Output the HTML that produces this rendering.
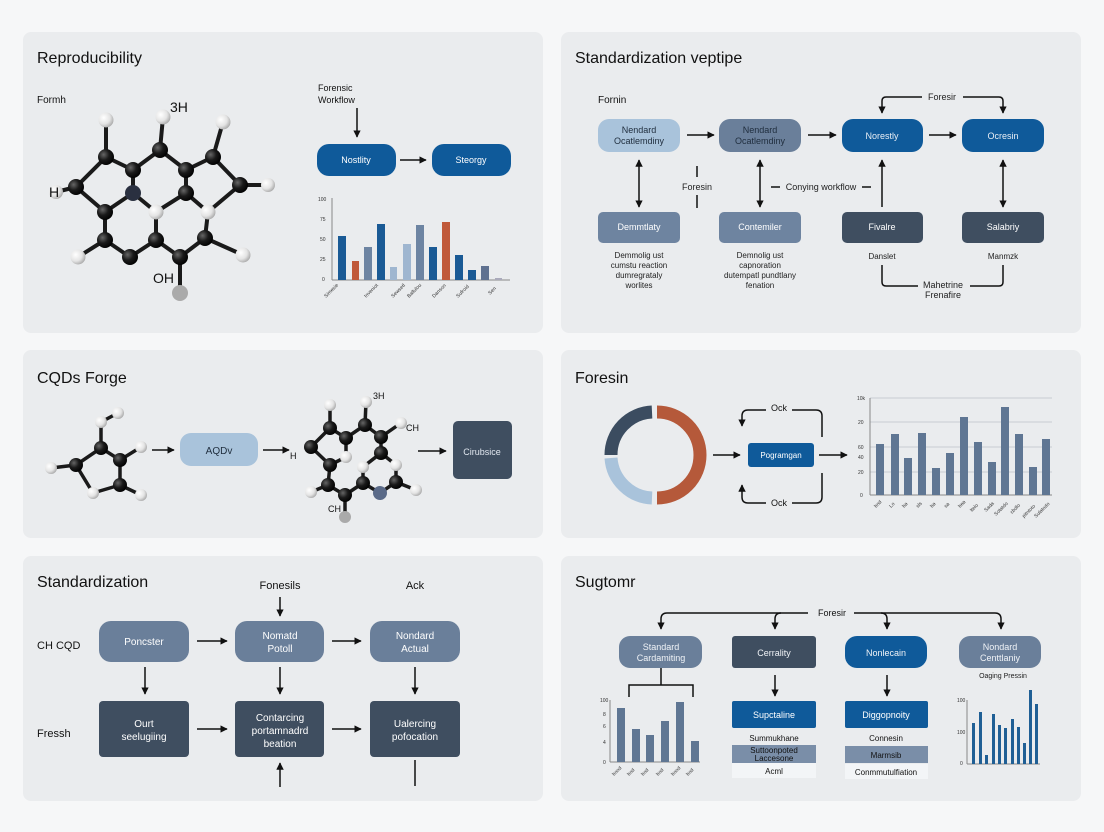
<!DOCTYPE html>
<html><head><meta charset="utf-8"><style>
html,body{margin:0;padding:0;background:#f6f7f8;}
svg{display:block;font-family:"Liberation Sans",sans-serif;}
</style></head><body>
<svg width="1104" height="832" viewBox="0 0 1104 832" xmlns="http://www.w3.org/2000/svg">
<defs>
<marker id="a" viewBox="0 0 10 10" refX="9" refY="5" markerWidth="5" markerHeight="5" orient="auto-start-reverse"><path d="M0,0 L10,5 L0,10 z" fill="#111"/></marker>
<radialGradient id="gb" cx="35%" cy="35%" r="70%"><stop offset="0" stop-color="#666"/><stop offset="0.5" stop-color="#1a1a1a"/><stop offset="1" stop-color="#000"/></radialGradient>
<radialGradient id="gw" cx="35%" cy="35%" r="70%"><stop offset="0" stop-color="#fff"/><stop offset="0.6" stop-color="#e4e4e4"/><stop offset="1" stop-color="#aaa"/></radialGradient>
</defs>
<rect width="1104" height="832" fill="#f6f7f8"/>
<g fill="#eaecee">
<rect x="23" y="32" width="520" height="301" rx="8"/>
<rect x="561" y="32" width="520" height="301" rx="8"/>
<rect x="23" y="350" width="520" height="188" rx="8"/>
<rect x="561" y="350" width="520" height="188" rx="8"/>
<rect x="23" y="556" width="520" height="245" rx="8"/>
<rect x="561" y="556" width="520" height="245" rx="8"/>
</g>
<g font-size="16" fill="#111">
<text x="37" y="63">Reproducibility</text>
<text x="575" y="63">Standardization veptipe</text>
<text x="37" y="383">CQDs Forge</text>
<text x="575" y="383">Foresin</text>
<text x="37" y="587">Standardization</text>
<text x="575" y="587">Sugtomr</text>
</g>

<!-- PANEL 1 molecule -->
<g stroke="#1a1a1a" stroke-width="4" stroke-linecap="round" fill="none">
<path d="M106,120 L106,157 L76,187 L105,212 L133,193 L133,170 L106,157 M133,170 L160,150 L186,170 L213,157 L240,185 L208,212 M186,170 L186,193 L156,212 M133,193 L156,212 M105,212 L105,240 L130,257 L156,240 L180,257 L205,238 L208,212 M156,240 L156,212 M180,257 L180,293 M160,150 L163,117 M213,157 L223,122 M240,185 L268,185 M76,187 L56,192 M105,240 L78,257 M205,238 L243,255 M186,193 L208,212"/>
</g>
<g fill="url(#gb)">
<circle cx="106" cy="157" r="8"/><circle cx="76" cy="187" r="8"/><circle cx="133" cy="170" r="8"/><circle cx="160" cy="150" r="8"/><circle cx="186" cy="170" r="8"/><circle cx="213" cy="157" r="8"/><circle cx="240" cy="185" r="8"/><circle cx="133" cy="193" r="8" fill="#2a3040"/><circle cx="186" cy="193" r="8"/><circle cx="105" cy="212" r="8"/><circle cx="105" cy="240" r="8"/><circle cx="130" cy="257" r="8"/><circle cx="156" cy="240" r="8"/><circle cx="180" cy="257" r="8"/><circle cx="205" cy="238" r="8"/>
</g>
<g fill="url(#gw)">
<circle cx="106" cy="120" r="7.5"/><circle cx="163" cy="117" r="7.5"/><circle cx="223" cy="122" r="7.5"/><circle cx="56" cy="192" r="7"/><circle cx="268" cy="185" r="7"/><circle cx="156" cy="212" r="7.5"/><circle cx="208" cy="212" r="7.5"/><circle cx="78" cy="257" r="7.5"/><circle cx="243" cy="255" r="7.5"/><circle cx="180" cy="293" r="8" fill="#aaa"/>
</g>
<g font-size="14" fill="#111"><text x="170" y="112">3H</text><text x="49" y="197">H</text><text x="153" y="283">OH</text></g>
<text x="37" y="103" font-size="10" fill="#111">Formh</text>
<g font-size="9" fill="#111"><text x="318" y="91">Forensic</text><text x="318" y="103">Workflow</text></g>
<line x1="357" y1="108" x2="357" y2="137" stroke="#111" stroke-width="1.5" marker-end="url(#a)"/>
<rect x="317" y="144" width="79" height="32" rx="12" fill="#0f5a9a"/>
<rect x="432" y="144" width="79" height="32" rx="12" fill="#0f5a9a"/>
<line x1="400" y1="160" x2="426" y2="160" stroke="#111" stroke-width="1.5" marker-end="url(#a)"/>
<g font-size="9" fill="#fff" text-anchor="middle"><text x="356" y="163">Nostlity</text><text x="471" y="163">Steorgy</text></g>
<g stroke="#888" stroke-width="1"><line x1="332" y1="198" x2="332" y2="280"/><line x1="332" y1="280" x2="510" y2="280"/></g>
<g font-size="5" fill="#333"><text x="318" y="201">100</text><text x="320" y="221">75</text><text x="320" y="241">50</text><text x="320" y="261">25</text><text x="322" y="281">0</text></g>
<g>
<rect x="338" y="236" width="8" height="44" fill="#1a5a95"/>
<rect x="352" y="261" width="7" height="19" fill="#c0593a"/>
<rect x="364" y="247" width="8" height="33" fill="#6d84a2"/>
<rect x="377" y="224" width="8" height="56" fill="#1a5a95"/>
<rect x="390" y="267" width="7" height="13" fill="#9fb6d0"/>
<rect x="403" y="244" width="8" height="36" fill="#9fb6d0"/>
<rect x="416" y="225" width="8" height="55" fill="#6d84a2"/>
<rect x="429" y="247" width="8" height="33" fill="#1a5a95"/>
<rect x="442" y="222" width="8" height="58" fill="#c0593a"/>
<rect x="455" y="255" width="8" height="25" fill="#1a5a95"/>
<rect x="468" y="270" width="8" height="10" fill="#1a5a95"/>
<rect x="481" y="266" width="8" height="14" fill="#5f7190"/>
<rect x="495" y="278" width="7" height="2" fill="#aab"/>
</g>
<g font-size="5" fill="#333">
<text transform="translate(326,298) rotate(-45)">Simesie</text><text transform="translate(366,298) rotate(-45)">Inveniot</text><text transform="translate(393,298) rotate(-45)">Sewsetl</text><text transform="translate(409,298) rotate(-45)">Ballulou</text><text transform="translate(434,298) rotate(-45)">Danson</text><text transform="translate(458,298) rotate(-45)">Sufroid</text><text transform="translate(490,295) rotate(-45)">Sen</text>
</g>

<!-- PANEL 2 -->
<text x="598" y="103" font-size="10" fill="#111">Fornin</text>
<rect x="598" y="119" width="82" height="33" rx="11" fill="#a9c3db"/>
<rect x="719" y="119" width="82" height="33" rx="11" fill="#6a7f9a"/>
<rect x="842" y="119" width="81" height="33" rx="11" fill="#0f5a9a"/>
<rect x="962" y="119" width="82" height="33" rx="11" fill="#0f5a9a"/>
<g font-size="9" text-anchor="middle">
<text x="639" y="133" fill="#1f2d3d">Nendard</text><text x="639" y="144" fill="#1f2d3d">Ocatlemdiny</text>
<text x="760" y="133" fill="#1f2d3d">Nendard</text><text x="760" y="144" fill="#1f2d3d">Ocatlemdiny</text>
<text x="882" y="139" fill="#e8eef5">Norestly</text><text x="1003" y="139" fill="#e8eef5">Ocresin</text>
</g>
<g stroke="#111" stroke-width="1.5" fill="none">
<line x1="687" y1="135" x2="714" y2="135" marker-end="url(#a)"/>
<line x1="808" y1="135" x2="836" y2="135" marker-end="url(#a)"/>
<line x1="929" y1="135" x2="956" y2="135" marker-end="url(#a)"/>
<line x1="639" y1="160" x2="639" y2="207" marker-start="url(#a)" marker-end="url(#a)"/>
<line x1="760" y1="160" x2="760" y2="207" marker-start="url(#a)" marker-end="url(#a)"/>
<line x1="1003" y1="160" x2="1003" y2="207" marker-start="url(#a)" marker-end="url(#a)"/>
<line x1="882" y1="207" x2="882" y2="160" marker-end="url(#a)"/>
<line x1="697" y1="166" x2="697" y2="177"/><line x1="697" y1="195" x2="697" y2="208"/>
<line x1="771" y1="187" x2="780" y2="187"/><line x1="862" y1="187" x2="871" y2="187"/>
<path d="M922,97 L886,97 Q882,97 882,101 L882,113" marker-end="url(#a)"/>
<path d="M963,97 L999,97 Q1003,97 1003,101 L1003,113" marker-end="url(#a)"/>
<path d="M882,265 L882,282 Q882,286 886,286 L918,286"/>
<path d="M1003,265 L1003,282 Q1003,286 999,286 L970,286"/>
</g>
<g font-size="9" fill="#222" text-anchor="middle">
<text x="942" y="100">Foresir</text><text x="697" y="190">Foresin</text><text x="821" y="190">Conying workflow</text>
<text x="943" y="288">Mahetrine</text><text x="943" y="298">Frenafire</text>
</g>
<rect x="598" y="212" width="82" height="31" rx="5" fill="#6e84a0"/>
<rect x="719" y="212" width="82" height="31" rx="5" fill="#6e84a0"/>
<rect x="842" y="212" width="81" height="31" rx="5" fill="#3f4e60"/>
<rect x="962" y="212" width="82" height="31" rx="5" fill="#3f4e60"/>
<g font-size="9" fill="#fff" text-anchor="middle"><text x="639" y="230">Demmtlaty</text><text x="760" y="230">Contemiler</text><text x="882" y="230">Fivalre</text><text x="1003" y="230">Salabriy</text></g>
<g font-size="8" fill="#222" text-anchor="middle">
<text x="639" y="258">Demmolig ust</text><text x="639" y="268">cumstu reaction</text><text x="639" y="278">dumregrataly</text><text x="639" y="288">worlites</text>
<text x="760" y="258">Demnolig ust</text><text x="760" y="268">capnoration</text><text x="760" y="278">dutempatl pundtlany</text><text x="760" y="288">fenation</text>
<text x="882" y="259">Danslet</text><text x="1003" y="259">Manmzk</text>
</g>

<!-- PANEL 3 -->
<g stroke="#1a1a1a" stroke-width="3.5" stroke-linecap="round" fill="none">
<path d="M101,448 L76,465 L93,493 L120,485 L120,460 L101,448 L101,422 L118,413 M120,460 L141,447 M76,465 L51,468 M120,485 L141,495"/>
<path d="M330,405 L330,428 L311,447 L330,465 L328,485 L345,495 L363,483 L380,493 L396,482 L416,490 M330,428 L346,438 L365,425 L366,402 M365,425 L381,437 L401,423 M381,437 L381,453 L363,467 L363,483 M346,438 L346,457 L330,465 M396,482 L396,465 M345,495 L345,517 M328,485 L311,492 M381,453 L396,465"/>
</g>
<g fill="url(#gb)">
<circle cx="101" cy="448" r="7"/><circle cx="76" cy="465" r="7"/><circle cx="120" cy="460" r="7"/><circle cx="120" cy="485" r="7"/>
<circle cx="330" cy="428" r="7"/><circle cx="346" cy="438" r="7"/><circle cx="365" cy="425" r="7"/><circle cx="381" cy="437" r="7"/><circle cx="311" cy="447" r="7"/><circle cx="381" cy="453" r="7"/><circle cx="330" cy="465" r="7"/><circle cx="328" cy="485" r="7"/><circle cx="345" cy="495" r="7"/><circle cx="363" cy="483" r="7"/><circle cx="396" cy="482" r="7"/><circle cx="380" cy="493" r="7" fill="#5a6a88"/>
</g>
<g fill="url(#gw)">
<circle cx="101" cy="422" r="6"/><circle cx="118" cy="413" r="6"/><circle cx="141" cy="447" r="6"/><circle cx="51" cy="468" r="6"/><circle cx="93" cy="493" r="6"/><circle cx="141" cy="495" r="6"/>
<circle cx="330" cy="405" r="6"/><circle cx="366" cy="402" r="6"/><circle cx="401" cy="423" r="6"/><circle cx="346" cy="457" r="6"/><circle cx="363" cy="467" r="6"/><circle cx="396" cy="465" r="6"/><circle cx="311" cy="492" r="6"/><circle cx="416" cy="490" r="6"/><circle cx="345" cy="517" r="6" fill="#aaa"/>
</g>
<g font-size="9" fill="#111"><text x="373" y="399">3H</text><text x="406" y="431">CH</text><text x="290" y="459">H</text><text x="328" y="512">CH</text></g>
<g stroke="#111" stroke-width="1.5">
<line x1="152" y1="450" x2="174" y2="450" marker-end="url(#a)"/>
<line x1="263" y1="450" x2="289" y2="450" marker-end="url(#a)"/>
<line x1="418" y1="451" x2="446" y2="451" marker-end="url(#a)"/>
</g>
<rect x="180" y="433" width="78" height="33" rx="11" fill="#a9c3db"/>
<text x="219" y="454" font-size="10" fill="#1f2d3d" text-anchor="middle">AQDv</text>
<rect x="453" y="421" width="59" height="58" rx="5" fill="#3f4e60"/>
<text x="482" y="455" font-size="9" fill="#e0e6ee" text-anchor="middle">Cirubsice</text>

<!-- PANEL 4 -->
<g fill="none" stroke-width="13">
<path d="M611,455 A43,43 0 0 1 652,412" stroke="#3b4c60"/>
<path d="M657,412 A43,43 0 0 1 657,498" stroke="#b5593a"/>
<path d="M652,498 A43,43 0 0 1 611,458" stroke="#a9c3db"/>
</g>
<g stroke="#111" stroke-width="1.5" fill="none">
<line x1="713" y1="455" x2="740" y2="455" marker-end="url(#a)"/>
<line x1="819" y1="455" x2="847" y2="455" marker-end="url(#a)"/>
<path d="M822,437 L822,416 Q822,410 816,410 L792,410"/>
<path d="M766,410 L748,410 Q742,410 742,416 L742,426" marker-end="url(#a)"/>
<path d="M822,473 L822,497 Q822,503 816,503 L792,503"/>
<path d="M766,503 L748,503 Q742,503 742,497 L742,485" marker-end="url(#a)"/>
</g>
<g font-size="9" fill="#111" text-anchor="middle"><text x="779" y="411">Ock</text><text x="779" y="506">Ock</text></g>
<rect x="748" y="443" width="66" height="24" rx="3" fill="#0f5a9a"/>
<text x="781" y="458" font-size="8" fill="#fff" text-anchor="middle">Pogramgan</text>
<g stroke="#c8ccd2" stroke-width="1"><line x1="870" y1="398" x2="1052" y2="398"/><line x1="870" y1="422" x2="1052" y2="422"/><line x1="870" y1="447" x2="1052" y2="447"/><line x1="870" y1="472" x2="1052" y2="472"/></g>
<g stroke="#888"><line x1="870" y1="398" x2="870" y2="495"/><line x1="870" y1="495" x2="1052" y2="495"/></g>
<g font-size="5" fill="#333"><text x="857" y="400">10k</text><text x="858" y="424">20</text><text x="858" y="449">60</text><text x="858" y="459">40</text><text x="858" y="474">20</text><text x="860" y="497">0</text></g>
<g fill="#5f7693">
<rect x="876" y="444" width="8" height="51"/><rect x="891" y="434" width="8" height="61"/><rect x="904" y="458" width="8" height="37"/><rect x="918" y="433" width="8" height="62"/><rect x="932" y="468" width="8" height="27"/><rect x="946" y="453" width="8" height="42"/><rect x="960" y="417" width="8" height="78"/><rect x="974" y="442" width="8" height="53"/><rect x="988" y="462" width="8" height="33"/><rect x="1001" y="407" width="8" height="88"/><rect x="1015" y="434" width="8" height="61"/><rect x="1029" y="467" width="8" height="28"/><rect x="1042" y="439" width="8" height="56"/>
</g>
<g font-size="5" fill="#333">
<text transform="translate(876,508) rotate(-45)">bnd</text><text transform="translate(891,508) rotate(-45)">Lo</text><text transform="translate(904,508) rotate(-45)">ba</text><text transform="translate(918,508) rotate(-45)">sls</text><text transform="translate(932,508) rotate(-45)">ba</text><text transform="translate(946,508) rotate(-45)">sa</text><text transform="translate(960,508) rotate(-45)">bea</text><text transform="translate(972,512) rotate(-45)">ltelo</text><text transform="translate(986,512) rotate(-45)">Sada</text><text transform="translate(996,516) rotate(-45)">Sotatdo</text><text transform="translate(1012,514) rotate(-45)">cbdlo</text><text transform="translate(1024,518) rotate(-45)">pitntoto</text><text transform="translate(1036,518) rotate(-45)">Sulatodo</text>
</g>

<!-- PANEL 5 -->
<g font-size="11" fill="#111"><text x="280" y="589" text-anchor="middle">Fonesils</text><text x="415" y="589" text-anchor="middle">Ack</text><text x="37" y="649">CH CQD</text><text x="37" y="737">Fressh</text></g>
<g fill="#6a7f9a"><rect x="99" y="621" width="90" height="41" rx="12"/><rect x="235" y="621" width="89" height="41" rx="12"/><rect x="370" y="621" width="90" height="41" rx="12"/></g>
<g fill="#3f4e60"><rect x="99" y="701" width="90" height="56" rx="4"/><rect x="235" y="701" width="89" height="56" rx="4"/><rect x="370" y="701" width="90" height="56" rx="4"/></g>
<g font-size="10" fill="#fff" text-anchor="middle">
<text x="144" y="645">Poncster</text>
<text x="280" y="639">Nomatd</text><text x="280" y="652">Potoll</text>
<text x="415" y="639">Nondard</text><text x="415" y="652">Actual</text>
<text x="144" y="727">Ourt</text><text x="144" y="740">seelugiing</text>
<text x="280" y="721">Contarcing</text><text x="280" y="734">portamnadrd</text><text x="280" y="747">beation</text>
<text x="415" y="727">Ualercing</text><text x="415" y="740">pofocation</text>
</g>
<g stroke="#111" stroke-width="1.5">
<line x1="280" y1="597" x2="280" y2="616" marker-end="url(#a)"/>
<line x1="197" y1="641" x2="227" y2="641" marker-end="url(#a)"/>
<line x1="332" y1="641" x2="361" y2="641" marker-end="url(#a)"/>
<line x1="145" y1="667" x2="145" y2="694" marker-end="url(#a)"/>
<line x1="280" y1="667" x2="280" y2="694" marker-end="url(#a)"/>
<line x1="415" y1="667" x2="415" y2="694" marker-end="url(#a)"/>
<line x1="197" y1="729" x2="227" y2="729" marker-end="url(#a)"/>
<line x1="332" y1="729" x2="361" y2="729" marker-end="url(#a)"/>
<line x1="280" y1="787" x2="280" y2="763" marker-end="url(#a)"/>
<line x1="415" y1="760" x2="415" y2="786"/>
</g>

<!-- PANEL 6 -->
<g stroke="#111" stroke-width="1.5" fill="none">
<path d="M808,613 L667,613 Q661,613 661,619 L661,629" marker-end="url(#a)"/>
<path d="M781,613 Q775,613 775,619 L775,629" marker-end="url(#a)"/>
<path d="M852,613 L995,613 Q1001,613 1001,619 L1001,629" marker-end="url(#a)"/>
<path d="M881,613 Q887,613 887,619 L887,629" marker-end="url(#a)"/>
<path d="M661,668 L661,685 M629,697 L629,685 L693,685 L693,697"/>
<line x1="775" y1="675" x2="775" y2="696" marker-end="url(#a)"/>
<line x1="887" y1="675" x2="887" y2="696" marker-end="url(#a)"/>
</g>
<rect x="808" y="607" width="46" height="12" fill="#eaecee"/>
<text x="832" y="616" font-size="9" fill="#111" text-anchor="middle">Foresir</text>
<rect x="619" y="636" width="83" height="32" rx="11" fill="#6a7f9a"/>
<rect x="732" y="636" width="84" height="32" rx="3" fill="#3f4e60"/>
<rect x="845" y="636" width="82" height="32" rx="12" fill="#0f5a9a"/>
<rect x="959" y="636" width="82" height="32" rx="11" fill="#6a7f9a"/>
<g font-size="9" fill="#f0f3f7" text-anchor="middle">
<text x="661" y="650">Standard</text><text x="661" y="661">Cardamiting</text>
<text x="774" y="656">Cerrality</text><text x="886" y="656">Nonlecain</text>
<text x="1000" y="650">Nondard</text><text x="1000" y="661">Centtlaniy</text>
</g>
<text x="1003" y="678" font-size="7" fill="#222" text-anchor="middle">Oaging Pressin</text>
<rect x="732" y="701" width="84" height="27" rx="2" fill="#0f5a9a"/>
<rect x="845" y="701" width="83" height="27" rx="2" fill="#0f5a9a"/>
<g font-size="9" fill="#fff" text-anchor="middle"><text x="774" y="718">Supctaline</text><text x="886" y="718">Diggopnoity</text></g>
<rect x="732" y="745" width="84" height="18" fill="#7a8ea8"/>
<rect x="732" y="763" width="84" height="15" fill="#f3f5f7"/>
<rect x="845" y="746" width="83" height="17" fill="#7a8ea8"/>
<rect x="845" y="764" width="83" height="15" fill="#f3f5f7"/>
<g font-size="8" fill="#111" text-anchor="middle">
<text x="774" y="741">Summukhane</text><text x="774" y="753">Suttoonpoted</text><text x="774" y="761">Laccesone</text><text x="774" y="774">Acml</text>
<text x="886" y="741">Connesin</text><text x="886" y="758">Marmsib</text><text x="886" y="775">Conmmutulfiation</text>
</g>
<g stroke="#888"><line x1="610" y1="700" x2="610" y2="762"/><line x1="610" y1="762" x2="700" y2="762"/><line x1="967" y1="700" x2="967" y2="764"/><line x1="967" y1="764" x2="1040" y2="764"/></g>
<g fill="#5f7693"><rect x="617" y="708" width="8" height="54"/><rect x="632" y="729" width="8" height="33"/><rect x="646" y="735" width="8" height="27"/><rect x="661" y="721" width="8" height="41"/><rect x="676" y="702" width="8" height="60"/><rect x="691" y="741" width="8" height="21"/></g>
<g font-size="5" fill="#333"><text x="600" y="702">100</text><text x="603" y="716">8</text><text x="603" y="728">6</text><text x="603" y="744">4</text><text x="603" y="764">0</text><text x="957" y="702">100</text><text x="957" y="734">100</text><text x="960" y="765">0</text></g>
<g fill="#1f5f95"><rect x="972" y="723" width="3" height="41"/><rect x="979" y="712" width="3" height="52"/><rect x="985" y="755" width="3" height="9"/><rect x="992" y="714" width="3" height="50"/><rect x="998" y="725" width="3" height="39"/><rect x="1004" y="728" width="3" height="36"/><rect x="1011" y="719" width="3" height="45"/><rect x="1017" y="727" width="3" height="37"/><rect x="1023" y="743" width="3" height="21"/><rect x="1029" y="690" width="3" height="74"/><rect x="1035" y="704" width="3" height="60"/></g>
<g font-size="5" fill="#333">
<text transform="translate(614,776) rotate(-45)">bood</text><text transform="translate(629,776) rotate(-45)">bod</text><text transform="translate(643,776) rotate(-45)">bod</text><text transform="translate(658,776) rotate(-45)">bod</text><text transform="translate(673,776) rotate(-45)">bood</text><text transform="translate(688,776) rotate(-45)">bod</text>
</g>
</svg>
</body></html>
